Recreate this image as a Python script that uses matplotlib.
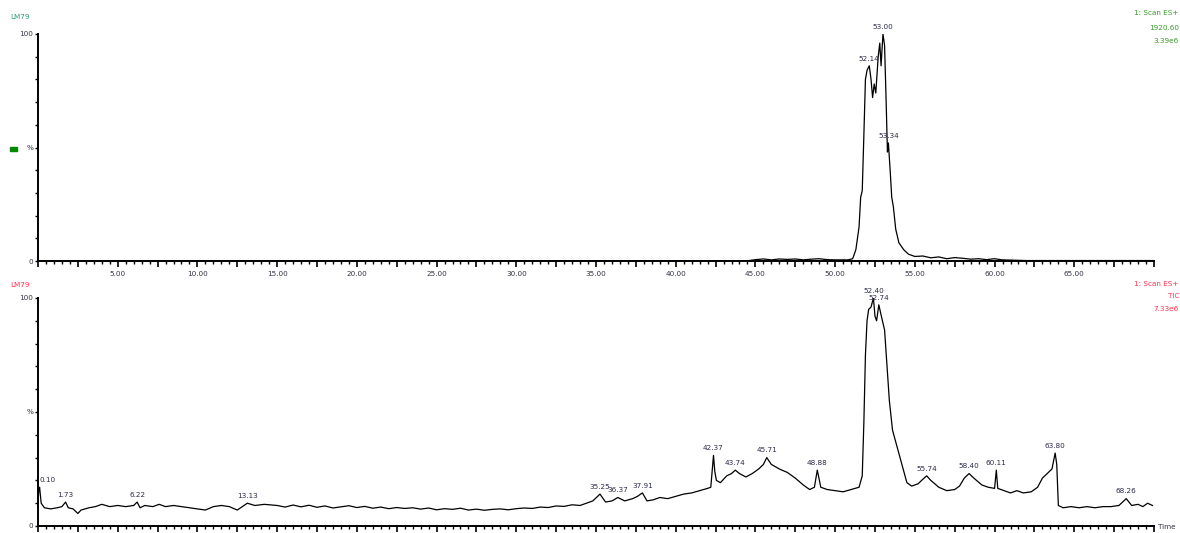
import matplotlib
matplotlib.use("Agg")
import matplotlib.pyplot as plt
from matplotlib.ticker import MultipleLocator, FuncFormatter
from matplotlib.patches import Rectangle

# ---------------- data ----------------
top_time = [0.0, 10.0, 20.0, 30.0, 40.0, 44.5, 45.0, 45.5, 46.0, 46.5, 47.0, 47.5, 48.0,
            48.5, 49.0, 49.5, 50.0, 50.8, 51.1, 51.3, 51.5, 51.6, 51.7, 51.8, 51.9,
            52.0, 52.14, 52.25, 52.35, 52.45, 52.55, 52.7, 52.8, 52.88, 53.0, 53.1,
            53.2, 53.28, 53.34, 53.45, 53.55, 53.65, 53.8, 54.0, 54.3, 54.6, 55.0,
            55.5, 56.0, 56.5, 57.0, 57.5, 58.0, 58.5, 59.0, 59.5, 60.0, 60.5, 61.0,
            62.0, 70.0]
top_int = [0.0, 0.0, 0.0, 0.0, 0.0, 0.1, 0.6, 0.9, 0.5, 0.9, 0.7, 0.9, 0.5,
           0.8, 1.0, 0.6, 0.5, 0.5, 1.0, 5.0, 15.0, 28.0, 31.0, 55.0, 80.0,
           84.0, 86.0, 80.0, 72.0, 78.0, 74.0, 90.0, 96.0, 86.0, 100.0, 95.0,
           70.0, 48.0, 52.0, 40.0, 28.0, 24.0, 14.0, 8.0, 5.0, 3.0, 2.0,
           2.2, 1.4, 1.8, 1.0, 1.5, 1.2, 0.8, 1.0, 0.6, 1.0, 0.5, 0.4,
           0.2, 0.2]
top_peaks = [52.14, 53.00, 53.34]
top_peak_int = [86.0, 100.0, 52.0]

tic_time = [0.0, 0.05, 0.1, 0.2, 0.4, 0.8, 1.2, 1.5, 1.73, 1.9, 2.2, 2.5, 2.7, 3.2, 3.6,
            4.0, 4.5, 5.0, 5.5, 6.0, 6.22, 6.4, 6.7, 7.2, 7.6, 8.0, 8.5, 9.0, 9.5,
            10.0, 10.5, 11.0, 11.5, 12.0, 12.5, 13.13, 13.6, 14.2, 15.0, 15.5, 16.0,
            16.5, 17.0, 17.5, 18.0, 18.5, 19.0, 19.5, 20.0, 20.5, 21.0, 21.5, 22.0,
            22.5, 23.0, 23.5, 24.0, 24.5, 25.0, 25.5, 26.0, 26.5, 27.0, 27.5, 28.0,
            28.5, 29.0, 29.5, 30.0, 30.5, 31.0, 31.5, 32.0, 32.5, 33.0, 33.5, 34.0,
            34.8, 35.25, 35.6, 36.0, 36.37, 36.8, 37.3,
            37.6, 37.91, 38.2, 38.6, 39.0, 39.5, 40.0, 40.5, 41.0, 41.5, 42.0, 42.2,
            42.3, 42.37, 42.45, 42.55, 42.8, 43.2, 43.5, 43.74, 44.0, 44.4, 44.8,
            45.2, 45.5, 45.71, 46.0, 46.5, 47.0, 47.5, 48.0, 48.4, 48.7, 48.88, 49.1,
            49.5, 50.0, 50.5, 51.0, 51.5, 51.7, 51.8, 51.9, 52.0, 52.1, 52.25, 52.4,
            52.5, 52.6, 52.74, 52.9, 53.1, 53.4, 53.6, 54.07, 54.5, 54.8, 55.2, 55.5,
            55.74, 56.0, 56.5, 57.0, 57.5, 57.8, 58.1, 58.4, 58.7, 59.2, 59.6, 60.0,
            60.11, 60.2, 60.6, 61.0, 61.4, 61.8, 62.3, 62.7, 63.0, 63.3, 63.6, 63.8,
            63.9, 64.0, 64.3, 64.8, 65.3, 65.8, 66.3, 66.8, 67.3, 67.8, 68.26, 68.6,
            69.0, 69.3, 69.6, 69.9]
tic_int = [10.0, 16.0, 17.0, 10.0, 8.0, 7.5, 8.0, 8.5, 10.5, 8.0, 7.5, 5.5, 7.0, 8.0, 8.5,
           9.5, 8.5, 9.0, 8.5, 9.0, 10.5, 8.0, 9.0, 8.5, 9.5, 8.5, 9.0, 8.5, 8.0,
           7.5, 7.0, 8.5, 9.0, 8.5, 7.0, 10.0, 9.0, 9.5, 9.0, 8.3, 9.2,
           8.4, 9.1, 8.2, 8.8, 7.9, 8.4, 8.9, 8.1, 8.6, 7.8, 8.3, 7.6,
           8.1, 7.7, 8.0, 7.4, 7.9, 7.1, 7.6, 7.3, 7.8, 7.0, 7.4, 6.9,
           7.3, 7.5, 7.1, 7.6, 7.9, 7.7, 8.3, 8.1, 8.8, 8.6, 9.3, 9.0,
           11.0, 14.0, 10.5, 11.0, 12.5, 11.0, 12.0,
           13.0, 14.5, 11.0, 11.5, 12.5, 12.0, 13.0, 14.0, 14.5, 15.5, 16.5, 17.0,
           25.0, 31.0, 24.0, 20.0, 19.0, 22.0, 23.0, 24.5, 23.0, 21.5, 23.0,
           25.0, 27.0, 30.0, 27.0, 25.0, 23.5, 21.0, 18.0, 16.0, 17.0, 24.5, 17.0,
           16.0, 15.5, 15.0, 16.0, 17.0, 22.0, 45.0, 75.0, 90.0, 95.0, 96.0, 100.0,
           92.0, 90.0, 97.0, 92.0, 86.0, 55.0, 42.0, 30.0, 19.0, 17.5, 18.5, 20.5,
           22.0, 20.0, 17.0, 15.5, 16.0, 17.5, 21.0, 23.0, 21.0, 18.0, 17.0, 16.5,
           24.5, 16.5, 15.5, 14.5, 15.5, 14.5, 15.0, 17.0, 21.0, 23.0, 25.0, 32.0,
           27.0, 9.0, 8.0, 8.5, 8.0, 8.5, 8.0, 8.5, 8.5, 9.0, 12.0, 9.0,
           9.5, 8.5, 10.0, 9.0]
tic_peaks = [0.10, 1.73, 6.22, 13.13, 35.25, 36.37, 37.91, 42.37, 43.74, 45.71,
             48.88, 52.40, 52.74, 55.74, 58.40, 60.11, 63.80, 68.26]
tic_peak_int = [17.0, 10.5, 10.5, 10.0, 14.0, 12.5, 14.5, 31.0, 24.5, 30.0,
                24.5, 100.0, 97.0, 22.0, 23.0, 24.5, 32.0, 12.0]

# ---------------- figure ----------------
W, H = 1180, 533
fig = plt.figure(figsize=(W / 100, H / 100), dpi=100)
plt.rcParams['font.family'] = ['DejaVu Sans']

def ax_rect(x0, x1, ytop, ybot):
    return [x0 / W, 1 - ybot / H, (x1 - x0) / W, (ybot - ytop) / H]

ax1 = fig.add_axes(ax_rect(38, 1154, 34, 261))
ax2 = fig.add_axes(ax_rect(38, 1154, 298, 526))

label_col = '#2a2a48'
fs = 5.2

def fmt_x(v, pos):
    if abs(v % 5) < 1e-6 and 0 < v < 70:
        return '%.2f' % v
    return ''

def fmt_y(v, pos):
    if abs(v) < 1e-6:
        return '0'
    if abs(v - 50) < 1e-6:
        return '%'
    if abs(v - 100) < 1e-6:
        return '100'
    return ''

for ax in (ax1, ax2):
    ax.set_xlim(0, 70)
    ax.set_ylim(0, 100)
    for s in ('top', 'right'):
        ax.spines[s].set_visible(False)
    ax.spines['left'].set_linewidth(1.4)
    ax.spines['bottom'].set_linewidth(1.4)
    ax.xaxis.set_major_locator(MultipleLocator(2.5))
    ax.xaxis.set_minor_locator(MultipleLocator(0.5))
    ax.xaxis.set_major_formatter(FuncFormatter(fmt_x))
    ax.yaxis.set_major_locator(MultipleLocator(10))
    ax.yaxis.set_major_formatter(FuncFormatter(fmt_y))
    ax.tick_params(axis='x', which='major', direction='out', length=4, width=1.2,
                   labelsize=fs, pad=3, colors='black', labelcolor='#333344')
    ax.tick_params(axis='x', which='minor', direction='out', length=2.2, width=1.0)
    ax.tick_params(axis='y', which='major', direction='out', length=2.5, width=1.0,
                   labelsize=fs, pad=1, labelcolor='#333344')
    ax.patch.set_alpha(0)

ax1.plot(top_time, top_int, color='black', lw=0.9)
ax2.plot(tic_time, tic_int, color='black', lw=0.9)

for t, v in zip(top_peaks, top_peak_int):
    ax1.annotate('%.2f' % t, (t, v), xytext=(0, 3), textcoords='offset points',
                 ha='center', va='bottom', fontsize=fs, color=label_col)
for i, (t, v) in enumerate(zip(tic_peaks, tic_peak_int)):
    ha = 'left' if i == 0 else 'center'
    ax2.annotate('%.2f' % t, (t, v), xytext=(0, 3), textcoords='offset points',
                 ha=ha, va='bottom', fontsize=fs, color=label_col)

# header texts
green = '#3a9a2a'
teal = '#2a9a7a'
red = '#ff3050'
fig.text(10 / W, 1 - 17 / H, 'LM79', fontsize=fs, color=teal, va='center')
fig.text(1179 / W, 1 - 13 / H, '1: Scan ES+', fontsize=fs, color=green, va='center', ha='right')
fig.text(1179 / W, 1 - 28 / H, '1920.60', fontsize=fs, color=green, va='center', ha='right')
fig.text(1179 / W, 1 - 41 / H, '3.39e6', fontsize=fs, color=green, va='center', ha='right')

fig.text(10 / W, 1 - 285 / H, 'LM79', fontsize=fs, color=red, va='center')
fig.text(1179 / W, 1 - 284 / H, '1: Scan ES+', fontsize=fs, color=red, va='center', ha='right')
fig.text(1179 / W, 1 - 296 / H, 'TIC', fontsize=fs, color=red, va='center', ha='right')
fig.text(1179 / W, 1 - 309 / H, '7.33e6', fontsize=fs, color=red, va='center', ha='right')

fig.text(1158 / W, 1 - 527 / H, 'Time', fontsize=fs, color='#333344', va='center', ha='left')

# small green marker on the left of the top panel
fig.patches.append(Rectangle((10 / W, 1 - 151 / H), 7 / W, 4 / H,
                             transform=fig.transFigure, color='#008800'))

fig.savefig('out.png', dpi=100)
